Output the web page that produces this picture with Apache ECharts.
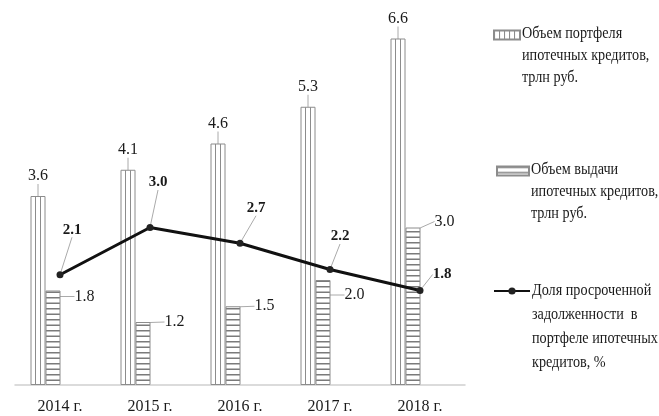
<!DOCTYPE html>
<html>
<head>
<meta charset="utf-8">
<script src="https://cdn.jsdelivr.net/npm/echarts@6/dist/echarts.min.js"></script>
<style>
  html, body { margin: 0; padding: 0; background: #fff; }
  #chart { width: 659px; height: 416px; }
</style>
</head>
<body>
<div id="chart"></div>
<script>
// данные
const years = ['2014 г.', '2015 г.', '2016 г.', '2017 г.', '2018 г.']
const portfolio = [3.6, 4.1, 4.6, 5.3, 6.6] // объем портфеля, трлн руб.
const issued = [1.8, 1.2, 1.5, 2.0, 3.0] // объем выдачи, трлн руб.
const overdue = [2.1, 3.0, 2.7, 2.2, 1.8] // доля просроченной задолженности, %

// названия рядов и строки подписей легенды
const names = ['Объем портфеля', 'Объем выдачи', 'Доля просроченной']
const legendLines = [
  ['Объем портфеля', 'ипотечных кредитов,', 'трлн руб.'],
  ['Объем выдачи', 'ипотечных кредитов,', 'трлн руб.'],
  ['Доля просроченной', 'задолженности  в', 'портфеле ипотечных', 'кредитов, %']
]

const FONT = 'Liberation Serif'
const GRAY = '#8c8c8c'

// штриховка: вертикальные линии
function vPattern () {
  const c = document.createElement('canvas')
  c.width = 5; c.height = 8
  const ctx = c.getContext('2d')
  ctx.fillStyle = '#fff'
  ctx.fillRect(0, 0, 5, 8)
  ctx.fillStyle = GRAY
  ctx.fillRect(0, 0, 1, 8)
  return c
}
// штриховка: горизонтальные линии
function hPattern () {
  const c = document.createElement('canvas')
  c.width = 8; c.height = 11
  const ctx = c.getContext('2d')
  ctx.fillStyle = '#fff'
  ctx.fillRect(0, 0, 8, 11)
  ctx.fillStyle = '#7a7a7a'
  ctx.fillRect(0, 0, 8, 1.5)
  ctx.fillRect(0, 5.5, 8, 1.5)
  return c
}

// смещения подписей линии (dx, dy) и подписей выдачи (dy)
const lineLabelShift = [[12, -34], [8, -34], [16, -24], [10, -22], [22, -5]]
const issuedLabelShift = [6, 0, 0, 15, -6]

const chart = echarts.init(document.getElementById('chart'), null, { renderer: 'canvas' })

// центры первых строк легенды, начало текста, шаг строк
const legendY = [34, 170, 291]
const legendTextX = [522, 531, 532]
const legendLH = [22, 22, 23.8]

function legendAt (i, icon, w) {
  return {
    data: [icon ? { name: names[i], icon: icon } : names[i]],
    left: legendTextX[i] - 3 - w,
    top: legendY[i] - 4.5,
    padding: 0,
    itemWidth: w,
    itemHeight: 9,
    selectedMode: false,
    formatter: () => '',
    textStyle: { fontSize: 1 }
  }
}

const legendTexts = []
legendLines.forEach((lines, i) => {
  lines.forEach((t, j) => {
    legendTexts.push({
      type: 'text',
      x: legendTextX[i],
      y: legendY[i] + j * legendLH[i],
      scaleX: 0.86,
      style: {
        text: t,
        font: '16.5px "Liberation Serif"',
        fill: '#1a1a1a',
        verticalAlign: 'middle'
      }
    })
  })
})

chart.setOption({
  animation: false,
  textStyle: { fontFamily: FONT },
  grid: [
    { left: 0.5, width: 450, top: 17.5, bottom: 31 },
    { left: 15, width: 450, top: 17.5, bottom: 31 }
  ],
  legend: [
    legendAt(0, 'rect', 26),
    legendAt(1, 'rect', 32),
    legendAt(2, null, 36)
  ],
  graphic: legendTexts,
  xAxis: [
    {
      gridIndex: 0, type: 'category', data: years,
      axisLine: { show: false }, axisTick: { show: false }, axisLabel: { show: false }
    },
    {
      gridIndex: 1, type: 'category', data: years,
      axisLine: { lineStyle: { color: '#d0d0d0', width: 1.5 } },
      axisTick: { show: false },
      axisLabel: { fontFamily: FONT, fontSize: 16, color: '#1a1a1a', margin: 14 }
    }
  ],
  yAxis: [
    { gridIndex: 0, type: 'value', min: 0, max: 7, show: false, splitLine: { show: false } },
    { gridIndex: 1, type: 'value', min: 0, max: 7, show: false, splitLine: { show: false } }
  ],
  series: [
    {
      name: names[0],
      type: 'bar',
      xAxisIndex: 0, yAxisIndex: 0,
      barWidth: 15,
      barGap: '0%',
      data: portfolio,
      itemStyle: {
        color: { image: vPattern(), repeat: 'repeat' },
        borderColor: GRAY,
        borderWidth: 1
      },
      label: {
        show: true,
        position: 'top',
        distance: 4,
        fontFamily: FONT,
        fontSize: 16,
        color: '#1a1a1a',
        formatter: p => p.value.toFixed(1)
      },
      labelLayout: { dy: -8 },
      labelLine: { show: true, lineStyle: { color: '#aaa', width: 1 } }
    },
    {
      name: names[1],
      type: 'bar',
      xAxisIndex: 0, yAxisIndex: 0,
      barWidth: 15,
      barGap: '0%',
      data: issued,
      itemStyle: {
        color: { image: hPattern(), repeat: 'repeat' },
        borderColor: GRAY,
        borderWidth: 1
      },
      label: {
        show: true,
        position: ['100%', 0],
        verticalAlign: 'middle',
        align: 'left',
        fontFamily: FONT,
        fontSize: 16,
        color: '#1a1a1a',
        formatter: p => p.value.toFixed(1)
      },
      labelLayout: p => ({ dx: 14, dy: issuedLabelShift[p.dataIndex] }),
      labelLine: { show: true, lineStyle: { color: '#aaa', width: 1 } }
    },
    {
      name: names[2],
      type: 'line',
      xAxisIndex: 1, yAxisIndex: 1,
      data: overdue,
      symbol: 'circle',
      symbolSize: 7,
      lineStyle: { color: '#111', width: 3 },
      itemStyle: { color: '#222' },
      label: {
        show: true,
        position: 'top',
        distance: 0,
        fontFamily: FONT,
        fontSize: 15,
        fontWeight: 'bold',
        color: '#1a1a1a',
        formatter: p => p.value.toFixed(1)
      },
      labelLayout: p => ({ dx: lineLabelShift[p.dataIndex][0], dy: lineLabelShift[p.dataIndex][1] }),
      labelLine: { show: true, lineStyle: { color: '#aaa', width: 1 } }
    }
  ]
})
</script>
</body>
</html>
